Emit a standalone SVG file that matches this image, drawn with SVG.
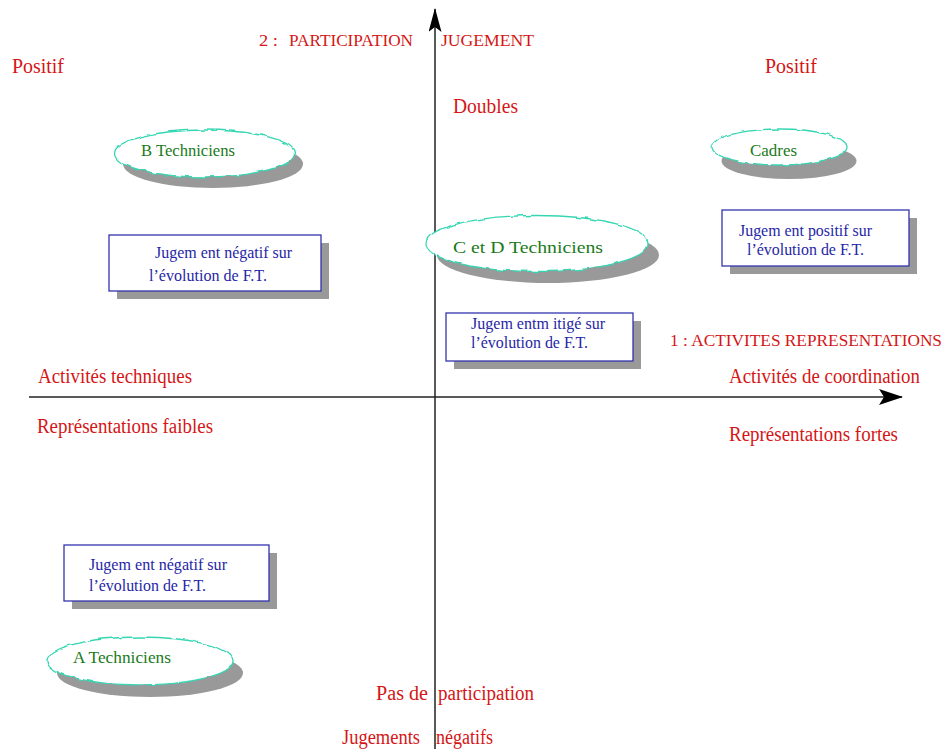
<svg xmlns="http://www.w3.org/2000/svg" width="945" height="749" viewBox="0 0 945 749">
<style>
  text { font-family: "Liberation Serif", "Times New Roman", serif; }
  .lbl { fill: #d41616; font-size: 20px; }
  .sm { fill: #d41616; font-size: 16px; }
  .grp { fill: #1a7a1a; font-size: 17px; }
  .jt { fill: #2626a6; font-size: 17px; }
  .box { fill: #ffffff; stroke: #3434b0; stroke-width: 1.3; }
  .shd { fill: #999999; stroke: none; }
  .ell { fill: #ffffff; stroke: #35d6b2; stroke-width: 1.3; }
  .axis { stroke: #222222; stroke-width: 1.5; fill: none; }
</style>
<defs>
  <filter id="wavy" x="-10%" y="-20%" width="120%" height="140%">
    <feTurbulence type="fractalNoise" baseFrequency="0.12" numOctaves="1" seed="3" result="n"/>
    <feDisplacementMap in="SourceGraphic" in2="n" scale="4" xChannelSelector="R" yChannelSelector="G"/>
  </filter>
  <marker id="arr" viewBox="0 0 24 16" refX="23" refY="8" markerWidth="24" markerHeight="16" markerUnits="userSpaceOnUse" orient="auto">
    <path d="M0,0 L24,8 L0,16 L5,8 Z" fill="#000000"/>
  </marker>
  <marker id="arrv" viewBox="0 0 24 13" refX="23" refY="6.5" markerWidth="24" markerHeight="13" markerUnits="userSpaceOnUse" orient="auto">
    <path d="M0,0 L24,6.5 L0,13 L5,6.5 Z" fill="#000000"/>
  </marker>
</defs>
<rect width="945" height="749" fill="#ffffff"/>

<g id="connectors">
  <line class="axis" x1="29" y1="397" x2="902" y2="397" marker-end="url(#arr)"/>
  <line class="axis" x1="435" y1="749" x2="435" y2="9" marker-end="url(#arrv)"/>
</g>

<g id="labels">
  <text class="lbl" x="12" y="73" textLength="52" lengthAdjust="spacingAndGlyphs">Positif</text>
  <text class="lbl" x="765" y="73" textLength="52" lengthAdjust="spacingAndGlyphs">Positif</text>
  <text class="sm" x="259" y="46" font-size="19" textLength="19" lengthAdjust="spacingAndGlyphs">2 :</text>
  <text class="sm" x="289" y="46" textLength="124" lengthAdjust="spacingAndGlyphs">PARTICIPATION</text>
  <text class="sm" x="441" y="46" textLength="93" lengthAdjust="spacingAndGlyphs">JUGEMENT</text>
  <text class="lbl" x="453" y="113" textLength="65" lengthAdjust="spacingAndGlyphs">Doubles</text>
  <text class="sm" x="670" y="346" font-size="17" textLength="272" lengthAdjust="spacingAndGlyphs">1 :  ACTIVITES REPRESENTATIONS</text>
  <text class="lbl" x="38" y="383" textLength="154" lengthAdjust="spacingAndGlyphs">Activités techniques</text>
  <text class="lbl" x="729" y="383" textLength="191" lengthAdjust="spacingAndGlyphs">Activités de coordination</text>
  <text class="lbl" x="37" y="433" textLength="176" lengthAdjust="spacingAndGlyphs">Représentations faibles</text>
  <text class="lbl" x="729" y="441" textLength="169" lengthAdjust="spacingAndGlyphs">Représentations fortes</text>
  <text class="lbl" y="700"><tspan x="376" textLength="52" lengthAdjust="spacingAndGlyphs">Pas de</tspan> <tspan x="438" textLength="96" lengthAdjust="spacingAndGlyphs">participation</tspan></text>
  <text class="lbl" y="744"><tspan x="342" textLength="78" lengthAdjust="spacingAndGlyphs">Jugements</tspan> <tspan x="436" textLength="57" lengthAdjust="spacingAndGlyphs">négatifs</tspan></text>
</g>

<g id="node-b-techniciens">
  <ellipse class="shd" cx="213" cy="164" rx="90" ry="24"/>
  <ellipse class="ell" cx="204.5" cy="153.5" rx="90" ry="23.5" filter="url(#wavy)"/>
  <text class="grp" x="141" y="156" textLength="94" lengthAdjust="spacingAndGlyphs">B Techniciens</text>
</g>

<g id="node-cadres">
  <ellipse class="shd" cx="789" cy="161" rx="67.5" ry="18"/>
  <ellipse class="ell" cx="779.5" cy="147" rx="67.5" ry="18" filter="url(#wavy)"/>
  <text class="grp" x="750" y="156" textLength="47" lengthAdjust="spacingAndGlyphs">Cadres</text>
</g>

<g id="node-cd-techniciens">
  <ellipse class="shd" cx="548" cy="255" rx="111" ry="28"/>
  <ellipse class="ell" cx="537" cy="243.5" rx="111" ry="28" filter="url(#wavy)"/>
  <text class="grp" x="453" y="253" font-size="20" textLength="150" lengthAdjust="spacingAndGlyphs">C et D Techniciens</text>
</g>

<g id="node-a-techniciens">
  <ellipse class="shd" cx="150" cy="673" rx="93" ry="24"/>
  <ellipse class="ell" cx="140" cy="661" rx="93" ry="24" filter="url(#wavy)"/>
  <text class="grp" x="73" y="663" textLength="98" lengthAdjust="spacingAndGlyphs">A  Techniciens</text>
</g>

<g id="node-jugement-negatif-haut">
  <rect class="shd" x="117" y="243" width="212" height="56"/>
  <rect class="box" x="109" y="235" width="212" height="56"/>
  <text class="jt" x="155" y="258" textLength="137" lengthAdjust="spacingAndGlyphs">Jugem ent négatif sur</text>
  <text class="jt" x="149" y="281" textLength="118" lengthAdjust="spacingAndGlyphs">l’évolution de F.T.</text>
</g>

<g id="node-jugement-positif">
  <rect class="shd" x="730" y="218" width="187" height="56"/>
  <rect class="box" x="722" y="210" width="187" height="56"/>
  <text class="jt" x="739" y="236" textLength="133" lengthAdjust="spacingAndGlyphs">Jugem ent positif sur</text>
  <text class="jt" x="747" y="255" textLength="117" lengthAdjust="spacingAndGlyphs">l’évolution de F.T.</text>
</g>

<g id="node-jugement-mitige">
  <rect class="shd" x="454" y="321" width="187" height="48"/>
  <rect class="box" x="446" y="313" width="187" height="48"/>
  <text class="jt" x="471" y="329" textLength="134" lengthAdjust="spacingAndGlyphs">Jugem entm itigé sur</text>
  <text class="jt" x="471" y="348" textLength="117" lengthAdjust="spacingAndGlyphs">l’évolution de F.T.</text>
</g>

<g id="node-jugement-negatif-bas">
  <rect class="shd" x="72" y="553" width="205" height="56"/>
  <rect class="box" x="64" y="545" width="205" height="56"/>
  <text class="jt" x="89" y="570" textLength="138" lengthAdjust="spacingAndGlyphs">Jugem ent négatif sur</text>
  <text class="jt" x="89" y="591" textLength="117" lengthAdjust="spacingAndGlyphs">l’évolution de F.T.</text>
</g>
</svg>
